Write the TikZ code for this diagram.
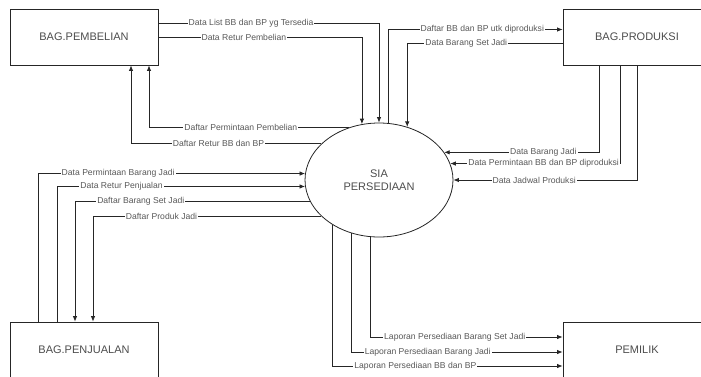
\documentclass[tikz,border=0pt]{standalone}
\usepackage{fontspec}
\setmainfont{Liberation Sans}
\usetikzlibrary{shapes.geometric, arrows.meta}

\begin{document}
\begin{tikzpicture}[x=1pt, y=-1pt, >={Latex[length=5.5pt,width=4.5pt]},
    box/.style={draw=black!85, line width=0.8pt, minimum width=148pt, minimum height=56pt, font=\fontsize{11}{13}\selectfont, text=black!70},
    proc/.style={ellipse, draw=black!85, line width=0.8pt, minimum width=148pt, minimum height=114pt, inner sep=0pt, align=center, font=\fontsize{11}{13}\selectfont, text=black!70},
    flow/.style={->, draw=black!85, line width=0.8pt},
    lbl/.style={fill=white, inner sep=1pt, font=\fontsize{8.6}{10}\selectfont, text=black!65}]
\clip (0,0) rectangle (701,376);
% Draw entities and process
\node[box] (pembelian) at (84,37) {BAG.PEMBELIAN};
\node[box] (produksi) at (637,37) {BAG.PRODUKSI};
\node[box] (penjualan) at (84,350) {BAG.PENJUALAN};
\node[box] (pemilik) at (637,350) {PEMILIK};
\node[proc] (sia) at (379,180) {SIA\\PERSEDIAAN};
% Flows with pembelian
\draw[flow] ([yshift=14]pembelian.east) -| (sia.north) node[lbl, pos=0.21] {Data List BB dan BP yg Tersedia};
\draw[flow] (pembelian.east) -| (sia.107) node[lbl, pos=0.21] {Data Retur Pembelian};
\draw[flow] (sia.120) -| ([xshift=65]pembelian.south) node[lbl, pos=0.27] {Daftar Permintaan Pembelian};
\draw[flow] (sia.148) -| ([xshift=47]pembelian.south) node[lbl, pos=0.27] {Daftar Retur BB dan BP};
% Flows with produksi
\draw[flow] (sia.81) |- ([yshift=7.5]produksi.west) node[lbl, pos=0.77] {Daftar BB dan BP utk diproduksi};
\draw[flow] ([yshift=-6.5]produksi.west) -| (sia.62) node[lbl, pos=0.31] {Data Barang Set Jadi};
\draw[flow] ([xshift=-38]produksi.south) |- (sia.23) node[lbl, pos=0.68] {Data Barang Jadi};
\draw[flow] ([xshift=-17]produksi.south) |- (sia.13) node[lbl, pos=0.725] {Data Permintaan BB dan BP diproduksi};
\draw[flow] (produksi.south) |- (sia.east) node[lbl, pos=0.78] {Data Jadwal Produksi};
% Flows with penjualan
\draw[flow] ([xshift=-46]penjualan.north) |- (sia.175) node[lbl, pos=0.65] {Data Permintaan Barang Jadi};
\draw[flow] ([xshift=-27]penjualan.north) |- (sia.185) node[lbl, pos=0.63] {Data Retur Penjualan};
\draw[flow] (sia.197) -| ([xshift=-9]penjualan.north) node[lbl, pos=0.36] {Daftar Barang Set Jadi};
\draw[flow] (sia.212) -| ([xshift=9]penjualan.north) node[lbl, pos=0.35] {Daftar Produk Jadi};
% Flows with pemilik
\draw[flow] (sia.261) |- ([yshift=13]pemilik.west) node[lbl, pos=0.72] {Laporan Persediaan Barang Set Jadi};
\draw[flow] (sia.243) |- ([yshift=-2]pemilik.west) node[lbl, pos=0.68] {Laporan Persediaan Barang Jadi};
\draw[flow] (sia.224) |- ([yshift=-16]pemilik.west) node[lbl, pos=0.68] {Laporan Persediaan BB dan BP};
\end{tikzpicture}
\end{document}
